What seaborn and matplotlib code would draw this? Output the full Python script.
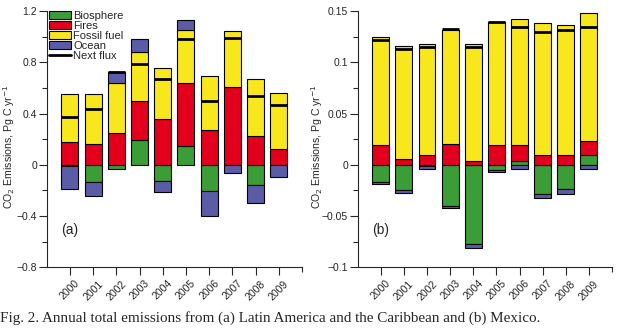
import numpy as np
import pandas as pd
import matplotlib
matplotlib.use("Agg")
import matplotlib.pyplot as plt
import seaborn as sns
from matplotlib.patches import Patch
from matplotlib.lines import Line2D
from matplotlib.ticker import FixedLocator

years = ["2000", "2001", "2002", "2003", "2004", "2005", "2006", "2007", "2008", "2009"]

# Panel (a): Latin America and the Caribbean (Pg C / yr)
a_bio = [-0.010, -0.135, -0.031, 0.195, -0.128, 0.146, -0.203, 0.0, -0.156, 0.0]
a_fires = [0.177, 0.164, 0.250, 0.300, 0.359, 0.492, 0.273, 0.607, 0.221, 0.125]
a_fossil = [0.378, 0.391, 0.388, 0.385, 0.396, 0.417, 0.420, 0.437, 0.451, 0.4375]
a_ocean = [-0.177, -0.107, 0.086, 0.104, -0.086, 0.078, -0.195, -0.0625, -0.141, -0.094]
a_net = [0.372, 0.435, 0.724, 0.789, 0.667, 0.979, 0.497, 0.990, 0.536, 0.4635]

# Panel (b): Mexico (Pg C / yr)
b_bio = [-0.0170, -0.0248, -0.0015, -0.0401, -0.0776, -0.0055, 0.0039, -0.0284, -0.0235, 0.0098]
b_fires = [0.0189, 0.0059, 0.0091, 0.0205, 0.0039, 0.0196, 0.0157, 0.0098, 0.0098, 0.0137]
b_fossil = [0.1060, 0.1101, 0.1083, 0.1110, 0.1135, 0.1199, 0.1222, 0.1281, 0.1265, 0.1242]
b_ocean = [-0.0022, -0.0026, -0.0030, -0.0019, -0.0039, -0.0013, -0.0039, -0.0039, -0.0049, -0.0039]
b_net = [0.1220, 0.1128, 0.1148, 0.1320, 0.1145, 0.1390, 0.1340, 0.1294, 0.1314, 0.1347]

a_yticks = [-0.8, -0.4, 0, 0.4, 0.8, 1.2]
a_yticklabels = ["\u22120.8", "\u22120.4", "0", "0.4", "0.8", "1.2"]
b_yticks = [-0.1, -0.05, 0, 0.05, 0.1, 0.15]
b_yticklabels = ["\u22120.1", "\u22120.05", "0", "0.05", "0.1", "0.15"]

labels = ["Biosphere", "Fires", "Fossil fuel", "Ocean"]
colors = ["#3a9d35", "#e2001c", "#f8e71c", "#5a5ca8"]

sns.set_style("ticks")
plt.rcParams["font.family"] = ["Liberation Sans", "DejaVu Sans"]

fig = plt.figure(figsize=(6.18, 3.3), dpi=100)
axA = fig.add_axes([0.0756, 0.19, 0.413, 0.7767])
axB = fig.add_axes([0.5788, 0.19, 0.4115, 0.7767])

BW = 0.73


def draw(ax, comps, net, ylim, yticks, yticklabels, tag, label_x):
    n = len(years)
    pos = np.zeros(n)
    neg = np.zeros(n)
    for vals, color in zip(comps, colors):
        v = np.asarray(vals, dtype=float)
        bottom = np.where(v >= 0, pos, neg)
        df = pd.DataFrame({"year": years, "v": v})
        sns.barplot(data=df, x="year", y="v", bottom=bottom, color=color,
                    saturation=1, width=BW, edgecolor="black", linewidth=0.8,
                    errorbar=None, ax=ax)
        pos += np.where(v > 0, v, 0)
        neg += np.where(v < 0, v, 0)
    xs = np.arange(n)
    ax.hlines(net, xs - BW / 2, xs + BW / 2, color="black", lw=2.0, zorder=5)
    ax.set_xlim(-1, 10)
    ax.set_ylim(*ylim)
    ax.set_yticks(yticks)
    ax.set_yticklabels(yticklabels, fontsize=7.5)
    mids = [(yticks[i] + yticks[i + 1]) / 2 for i in range(len(yticks) - 1)]
    ax.yaxis.set_minor_locator(FixedLocator(mids))
    ax.xaxis.set_minor_locator(FixedLocator([10]))
    ax.set_xticks(xs)
    ax.set_xticklabels(years, rotation=45, ha="center", va="top", fontsize=7.5)
    ax.tick_params(axis="y", which="major", direction="out", length=5.5, width=0.8, pad=1.5)
    ax.tick_params(axis="x", which="major", direction="out", length=6, width=0.8, pad=2)
    ax.tick_params(axis="both", which="minor", direction="out", length=3.5, width=0.8)
    ax.set_xlabel("")
    ax.set_ylabel(r"CO$_2$ Emissions, Pg C yr$^{-1}$", fontsize=7.6)
    ax.yaxis.set_label_coords(label_x, 0.47)
    for s in ["top", "right"]:
        ax.spines[s].set_visible(False)
    for s in ["left", "bottom"]:
        ax.spines[s].set_linewidth(0.8)
    ax.text(0.055, 0.13, tag, transform=ax.transAxes, fontsize=10)


draw(axA, [a_bio, a_fires, a_fossil, a_ocean], a_net, (-0.8, 1.2),
     a_yticks, a_yticklabels, "(a)", -0.118)
draw(axB, [b_bio, b_fires, b_fossil, b_ocean], b_net, (-0.1, 0.15),
     b_yticks, b_yticklabels, "(b)", -0.13)

handles = [Patch(facecolor=c, edgecolor="black", linewidth=0.8) for c in colors]
handles.append(Line2D([0], [0], color="black", lw=2))
axA.legend(handles, labels + ["Next flux"], loc="upper left",
           bbox_to_anchor=(0.0, 1.01), frameon=False, fontsize=8,
           handlelength=2.0, handleheight=0.8, labelspacing=0.0,
           handletextpad=0.2, borderaxespad=0.2, borderpad=0.0)

fig.text(0.0, 0.035, "Fig. 2. Annual total emissions from (a) Latin America and the Caribbean and (b) Mexico.",
         family=["Liberation Serif", "DejaVu Serif"], fontsize=10.9, va="center", ha="left")

fig.savefig("out.png", dpi=100)
